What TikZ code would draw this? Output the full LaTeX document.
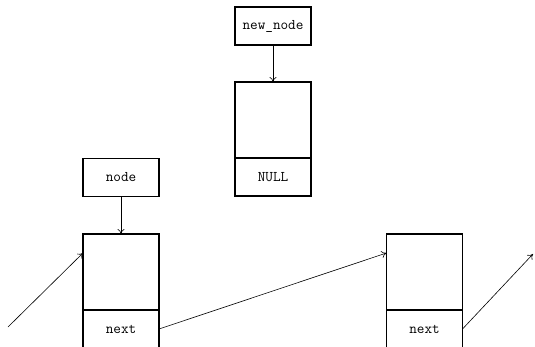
\documentclass[tikz,border=0pt]{standalone}
\usetikzlibrary{calc,arrows.meta}
\begin{document}
\begin{tikzpicture}[x=1pt,y=-1pt,
  cell/.style={draw,line width=1.5pt,inner sep=0pt,outer sep=0pt,
    font=\fontsize{14.8}{17}\selectfont\ttfamily},
  ptr/.style={cell,minimum width=76pt,minimum height=38pt},
  data/.style={cell,minimum width=76pt,minimum height=76pt},
  link/.style={cell,minimum width=76pt,minimum height=38pt},
  arr/.style={line width=0.6pt,-{To[length=5pt,width=7pt]}}]
  \useasboundingbox (0,0) rectangle (535,347);

  % the node being inserted
  \node[ptr] (newptr) at (273,26) {new\_node};
  \node[data] (newdata) at (273,120) {};
  \node[link,anchor=north] (newnext) at (newdata.south) {NULL};

  % existing list
  \node[ptr] (nodeptr) at (121,177.5) {node};
  \node[data] (data1) at (121,272) {};
  \node[link,anchor=north] (next1) at (data1.south) {next};
  \node[data] (data2) at (424.5,272) {};
  \node[link,anchor=north] (next2) at (data2.south) {next};

  \coordinate (inlink) at (8,327);
  \coordinate (outlink) at (533,254);

  \draw[arr] (newptr) -- (newdata);
  \draw[arr] (nodeptr) -- (data1);
  \draw[arr] (inlink) -- ($(data1.north west)!0.25!(data1.south west)$);
  \draw[arr] (next1.east) -- ($(data2.north west)!0.25!(data2.south west)$);
  \draw[arr] (next2.east) -- (outlink);
\end{tikzpicture}
\end{document}
